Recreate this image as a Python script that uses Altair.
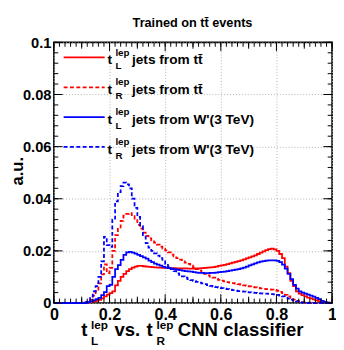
import altair as alt
import pandas as pd

# ---------------- data (100 bins of width 0.01) ----------------
bin_low_edges = [i / 100 for i in range(100)]

tL_ttbar = [
    0, 0, 0, 0, 0, 0, 0, 0, 0, 0,
    0, 0.0001, 0.0002, 0.0003, 0.0005, 0.0008, 0.0012, 0.0018, 0.0025, 0.0032,
    0.0038, 0.0045, 0.0068, 0.0085, 0.0100, 0.0112, 0.0122, 0.0130, 0.0136, 0.0140,
    0.0142, 0.0142, 0.0141, 0.0140, 0.0139, 0.0138, 0.0137, 0.0136, 0.0136, 0.0135,
    0.0135, 0.0134, 0.0134, 0.0134, 0.0133, 0.0133, 0.0133, 0.0133, 0.0132, 0.0132,
    0.0132, 0.0133, 0.0133, 0.0134, 0.0135, 0.0136, 0.0137, 0.0138, 0.0140, 0.0142,
    0.0144, 0.0146, 0.0149, 0.0152, 0.0155, 0.0158, 0.0161, 0.0164, 0.0167, 0.0171,
    0.0175, 0.0179, 0.0183, 0.0188, 0.0193, 0.0198, 0.0203, 0.0207, 0.0209, 0.0206,
    0.0200, 0.0188, 0.0172, 0.0140, 0.0115, 0.0085, 0.0065, 0.0045, 0.0036, 0.0030,
    0.0025, 0.0021, 0.0018, 0.0014, 0.0010, 0.0007, 0.0004, 0.0002, 0.0001, 0,
]

tR_ttbar = [
    0, 0, 0, 0, 0, 0, 0, 0, 0, 0,
    0, 0, 0.0004, 0.0012, 0.0028, 0.0045, 0.0075, 0.0110, 0.0148, 0.0115,
    0.0135, 0.0200, 0.0260, 0.0290, 0.0315, 0.0335, 0.0342, 0.0345, 0.0333, 0.0318,
    0.0300, 0.0285, 0.0270, 0.0258, 0.0248, 0.0240, 0.0232, 0.0224, 0.0216, 0.0209,
    0.0202, 0.0194, 0.0186, 0.0179, 0.0172, 0.0166, 0.0160, 0.0155, 0.0150, 0.0143,
    0.0137, 0.0130, 0.0124, 0.0118, 0.0112, 0.0106, 0.0101, 0.0097, 0.0093, 0.0089,
    0.0086, 0.0083, 0.0080, 0.0078, 0.0076, 0.0074, 0.0072, 0.0070, 0.0068, 0.0066,
    0.0064, 0.0062, 0.0060, 0.0058, 0.0056, 0.0054, 0.0053, 0.0052, 0.0051, 0.0050,
    0.0047, 0.0043, 0.0038, 0.0031, 0.0025, 0.0019, 0.0013, 0.0008, 0.0005, 0.0003,
    0.0002, 0.0001, 0, 0, 0, 0, 0, 0, 0, 0,
]

tL_Wprime = [
    0, 0, 0, 0, 0, 0, 0, 0, 0, 0,
    0, 0, 0.0003, 0.0006, 0.0010, 0.0015, 0.0020, 0.0030, 0.0042, 0.0065,
    0.0070, 0.0100, 0.0130, 0.0145, 0.0165, 0.0185, 0.0194, 0.0196, 0.0193, 0.0189,
    0.0185, 0.0180, 0.0175, 0.0170, 0.0163, 0.0157, 0.0151, 0.0147, 0.0143, 0.0139,
    0.0136, 0.0134, 0.0132, 0.0130, 0.0128, 0.0126, 0.0124, 0.0122, 0.0121, 0.0120,
    0.0118, 0.0117, 0.0116, 0.0116, 0.0115, 0.0115, 0.0116, 0.0116, 0.0117, 0.0118,
    0.0119, 0.0120, 0.0122, 0.0124, 0.0126, 0.0128, 0.0130, 0.0133, 0.0136, 0.0140,
    0.0144, 0.0148, 0.0152, 0.0156, 0.0159, 0.0161, 0.0163, 0.0164, 0.0164, 0.0164,
    0.0162, 0.0157, 0.0147, 0.0132, 0.0112, 0.0092, 0.0070, 0.0055, 0.0045, 0.0040,
    0.0036, 0.0032, 0.0028, 0.0024, 0.0020, 0.0015, 0.0008, 0.0004, 0.0001, 0,
]

tR_Wprime = [
    0, 0, 0, 0, 0, 0, 0, 0, 0, 0,
    0, 0.0003, 0.0010, 0.0025, 0.0045, 0.0065, 0.0100, 0.0160, 0.0254, 0.0222,
    0.0215, 0.0320, 0.0390, 0.0425, 0.0448, 0.0462, 0.0455, 0.0440, 0.0400, 0.0365,
    0.0330, 0.0295, 0.0260, 0.0230, 0.0212, 0.0200, 0.0190, 0.0182, 0.0172, 0.0160,
    0.0150, 0.0140, 0.0130, 0.0122, 0.0114, 0.0108, 0.0102, 0.0097, 0.0092, 0.0088,
    0.0085, 0.0081, 0.0078, 0.0075, 0.0072, 0.0069, 0.0066, 0.0063, 0.0061, 0.0059,
    0.0057, 0.0055, 0.0053, 0.0051, 0.0049, 0.0047, 0.0046, 0.0045, 0.0044, 0.0042,
    0.0041, 0.0040, 0.0039, 0.0038, 0.0037, 0.0036, 0.0036, 0.0035, 0.0034, 0.0033,
    0.0031, 0.0028, 0.0025, 0.0021, 0.0017, 0.0013, 0.0009, 0.0006, 0.0003, 0.0001,
    0, 0, 0, 0, 0, 0, 0, 0, 0, 0,
]

series_keys = ["tL_ttbar", "tR_ttbar", "tL_Wprime", "tR_Wprime"]
series_values = [tL_ttbar, tR_ttbar, tL_Wprime, tR_Wprime]
series_colors = ["#ff0000", "#ff0000", "#0000ff", "#0000ff"]
series_dashed = [False, True, False, True]
legend_sources = ["jets from tt\u0304", "jets from tt\u0304", "jets from W'(3 TeV)", "jets from W'(3 TeV)"]
legend_subs = ["L", "R", "L", "R"]

x_label_values = [0, 0.2, 0.4, 0.6, 0.8, 1.0]
y_label_values = [0, 0.02, 0.04, 0.06, 0.08, 0.1]

# tick positions of the ROOT-style frame
x_major = [i * 0.2 for i in range(6)]
x_mid = [0.1 + i * 0.2 for i in range(5)]
x_minor = [i * 0.02 for i in range(51)]
y_major = [i * 0.02 for i in range(6)]
y_minor = [i * 0.004 for i in range(26)]

# ---------------- layout ----------------
W, H = 285, 267
FONT = "Liberation Sans"
MAJ, MID, MIN = 9, 6.5, 4.5

xscale = alt.Scale(domain=[0, 1], nice=False, zero=False)
yscale = alt.Scale(domain=[0, 0.1], nice=False, zero=False)

x_axis = alt.Axis(
    values=x_label_values, format="~g", title="", ticks=False, domain=False,
    labelFont=FONT, labelFontWeight="bold", labelFontSize=16.5, labelColor="black",
    labelPadding=4, labelFlush=False, labelOverlap=False, labelBaseline="top",
    grid=True, gridDash=[1, 2], gridColor="#b0b0b0", gridWidth=1,
)
y_axis = alt.Axis(
    values=y_label_values, format="~g", title="", ticks=False, domain=False,
    labelFont=FONT, labelFontWeight="bold", labelFontSize=15, labelColor="black",
    labelPadding=3, labelFlush=False, labelOverlap=False,
    grid=True, gridDash=[1, 2], gridColor="#b0b0b0", gridWidth=1,
)

layers = []

# histograms (step lines)
for key, vals, col, dashed in zip(series_keys, series_values, series_colors, series_dashed):
    df = pd.DataFrame({
        "x": bin_low_edges + [1.0],
        "y": list(vals) + [vals[-1]],
    })
    mk = alt.Chart(df).mark_line(
        interpolate="step-after", color=col, strokeWidth=1.8,
        strokeDash=[4, 2.5] if dashed else [1, 0],
    ).encode(
        x=alt.X("x:Q", scale=xscale, axis=x_axis),
        y=alt.Y("y:Q", scale=yscale, axis=y_axis),
    )
    layers.append(mk)


def xticks(values, length):
    d = pd.DataFrame({"x": values})
    bottom = alt.Chart(d).mark_rule(color="black", strokeWidth=1).encode(
        x=alt.X("x:Q", scale=xscale, axis=x_axis),
        y=alt.value(H), y2=alt.value(H - length))
    top = alt.Chart(d).mark_rule(color="black", strokeWidth=1).encode(
        x=alt.X("x:Q", scale=xscale, axis=x_axis),
        y=alt.value(0), y2=alt.value(length))
    return [bottom, top]


def yticks(values, length):
    d = pd.DataFrame({"y": values})
    left = alt.Chart(d).mark_rule(color="black", strokeWidth=1).encode(
        y=alt.Y("y:Q", scale=yscale, axis=y_axis),
        x=alt.value(0), x2=alt.value(length))
    right = alt.Chart(d).mark_rule(color="black", strokeWidth=1).encode(
        y=alt.Y("y:Q", scale=yscale, axis=y_axis),
        x=alt.value(W), x2=alt.value(W - length))
    return [left, right]


layers += xticks(x_minor, MIN) + xticks(x_mid, MID) + xticks(x_major, MAJ)
layers += yticks(y_minor, MIN) + yticks(y_major, MAJ)

one = pd.DataFrame({"o": [0]})


def txt(s, x, y, size, align="left", angle=0, baseline="alphabetic"):
    return alt.Chart(one).mark_text(
        font=FONT, fontWeight="bold", fontSize=size, align=align,
        baseline=baseline, angle=angle, color="black",
    ).encode(x=alt.value(x), y=alt.value(y), text=alt.value(s))


# legend (coordinates relative to plot area)
row_y = [15.5, 46, 76.5, 107]
for ry, col, dashed, src, sub in zip(row_y, series_colors, series_dashed, legend_sources, legend_subs):
    layers.append(
        alt.Chart(one).mark_rule(
            color=col, strokeWidth=1.8, strokeDash=[4, 2.5] if dashed else [1, 0]
        ).encode(x=alt.value(10), x2=alt.value(52), y=alt.value(ry))
    )
    layers.append(txt("t", 55, ry + 7, 14))
    layers.append(txt("lep", 63, ry - 2, 10))
    layers.append(txt(sub, 63, ry + 12, 10))
    layers.append(txt(src, 80, ry + 7, 14))

# title
layers.append(txt("Trained on tt\u0304 events", 142, -16, 13, align="center"))

# y title
layers.append(txt("a.u.", -32, 132, 17, align="center", angle=270))

# x title (t_L^lep vs. t_R^lep CNN classifier)
TB = 301
layers.append(txt("t", 28, TB, 19))
layers.append(txt("lep", 38, TB - 7, 12))
layers.append(txt("L", 38, TB + 9, 12))
layers.append(txt("vs.", 62, TB, 19))
layers.append(txt("t", 95, TB, 19))
layers.append(txt("lep", 105, TB - 7, 12))
layers.append(txt("R", 105, TB + 9, 12))
layers.append(txt("CNN classifier", 127, TB, 19))

chart = alt.layer(*layers).properties(
    width=W, height=H,
    autosize=alt.AutoSizeParams(type="none"),
    padding={"left": 47, "top": 31, "right": 4, "bottom": 46},
    background="white",
).configure_view(
    stroke="black", strokeWidth=1.6,
)

chart.save("out.html", embed_options={"renderer": "svg", "actions": False})
